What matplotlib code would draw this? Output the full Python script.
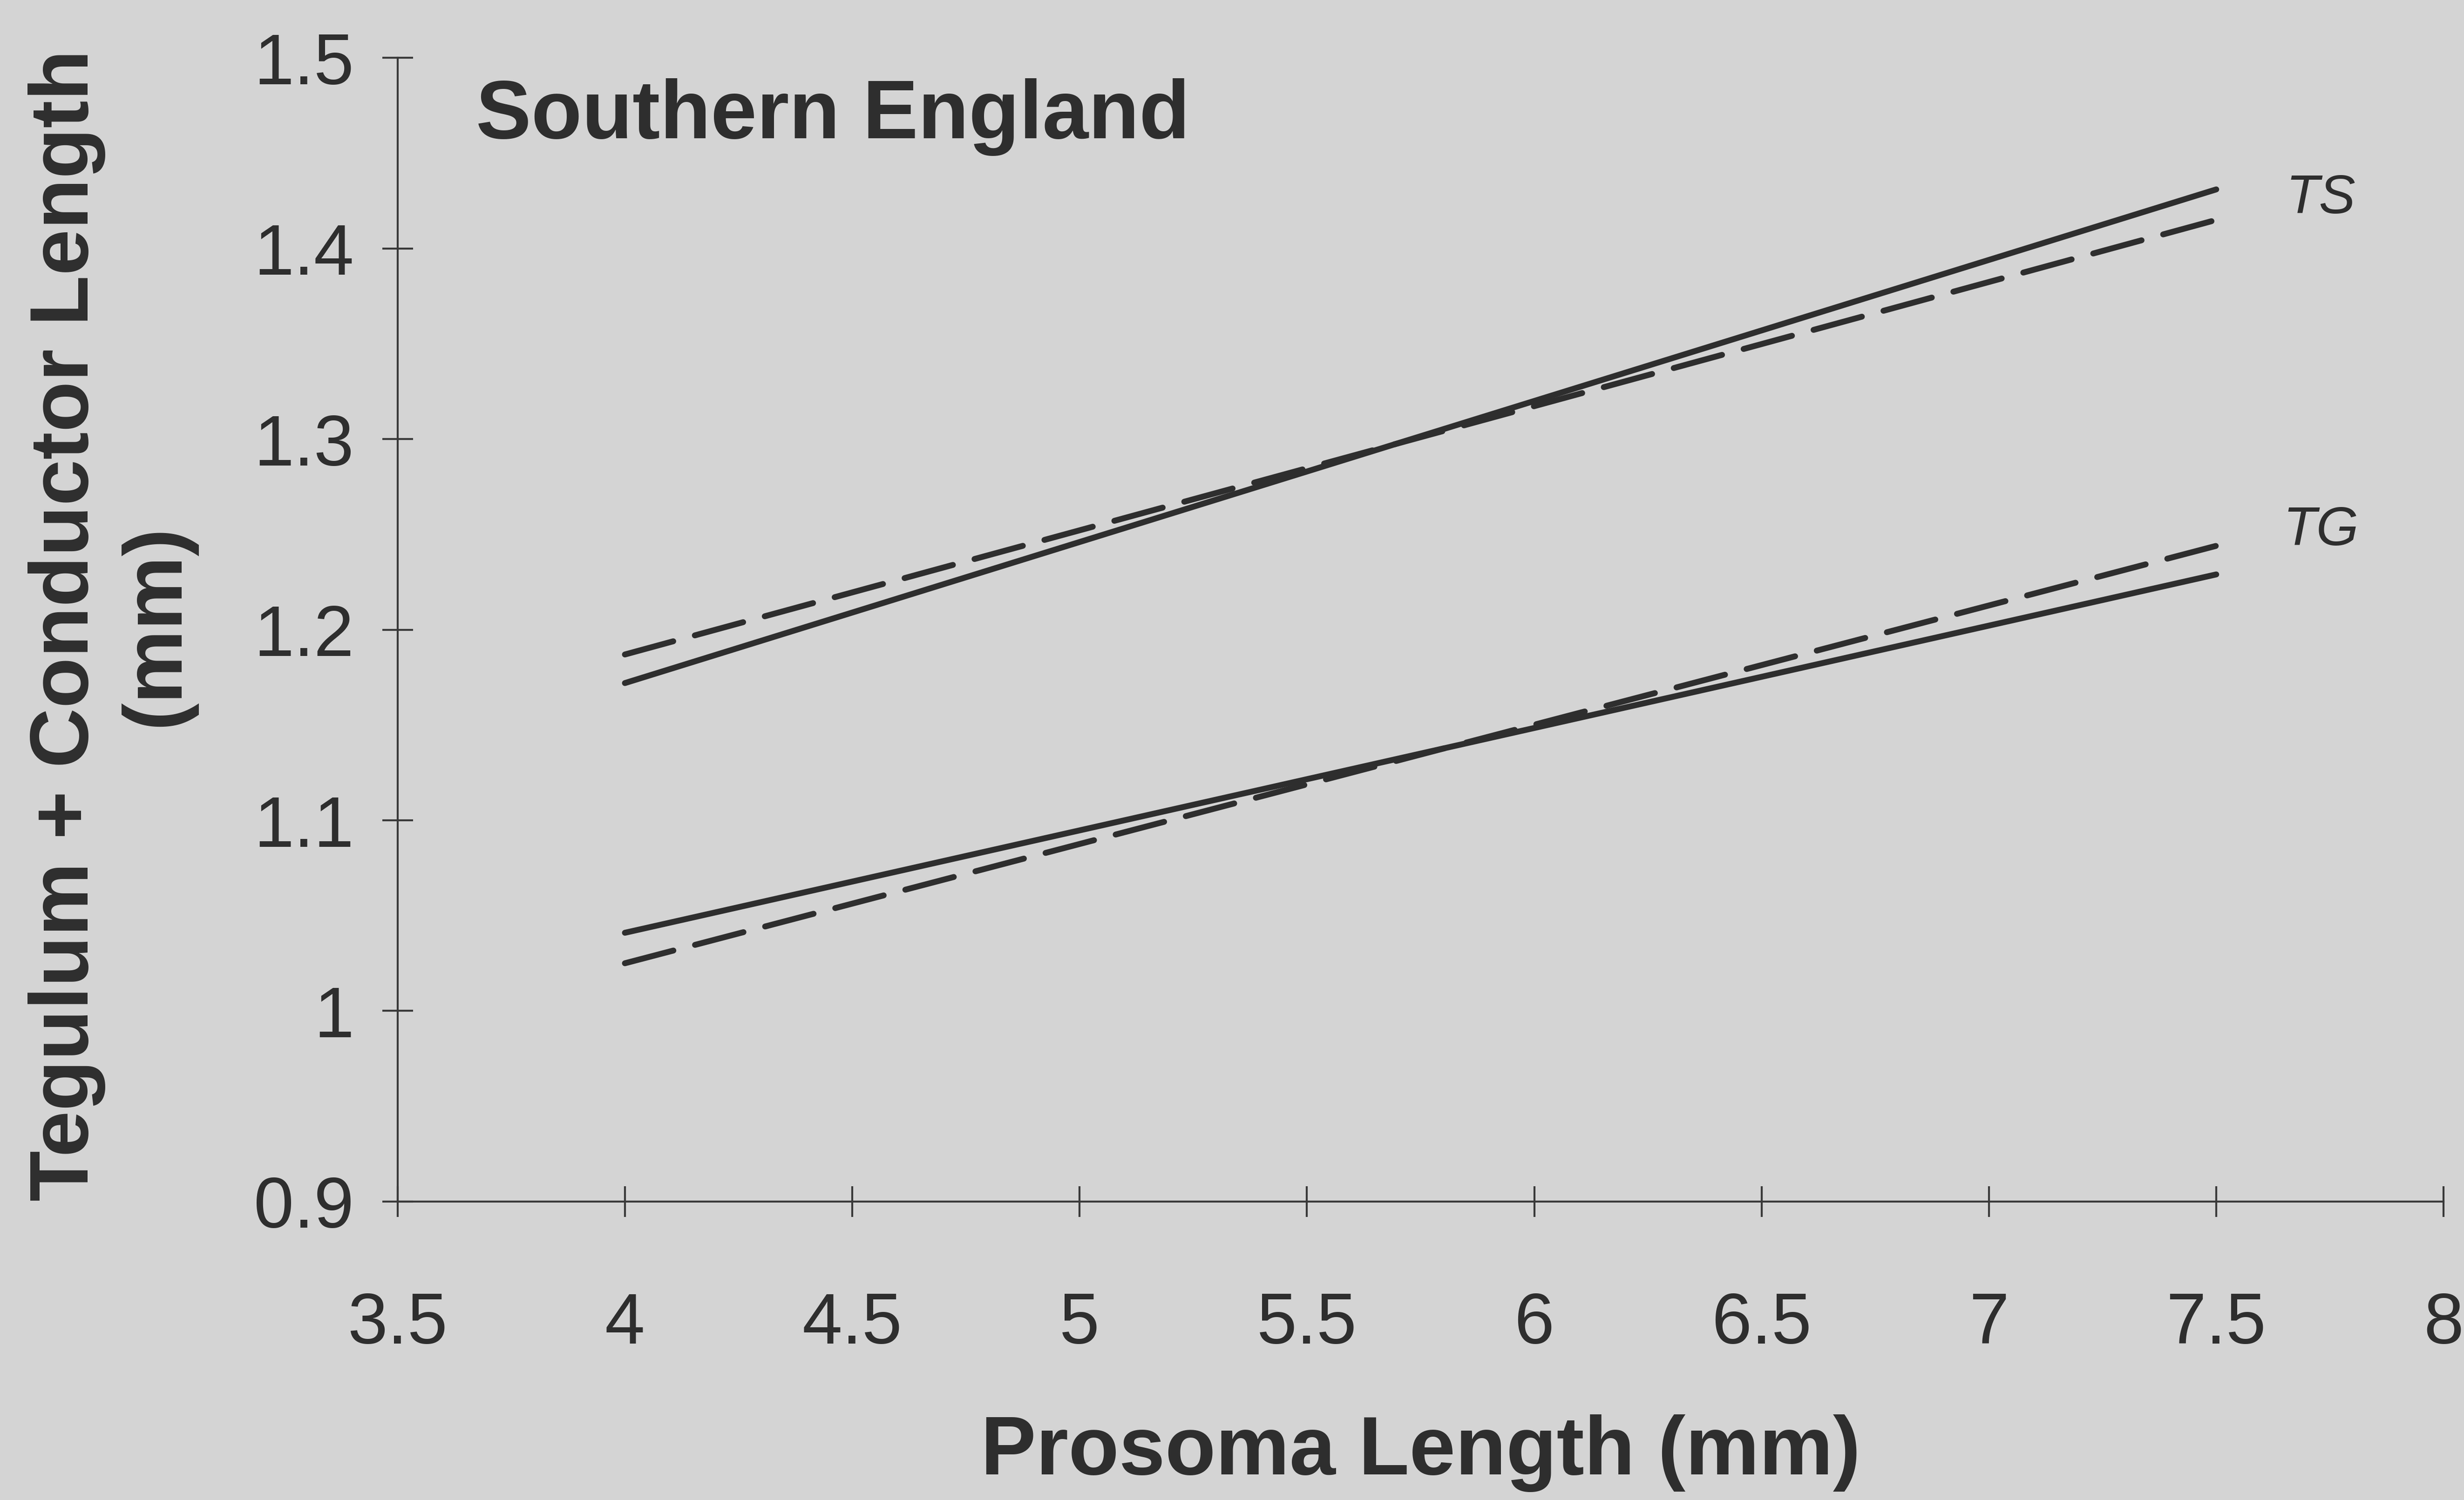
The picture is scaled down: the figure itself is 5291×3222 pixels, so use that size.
import matplotlib
matplotlib.use('Agg')
import matplotlib.pyplot as plt
from matplotlib.ticker import FuncFormatter

# regression lines, read at the two ends (prosoma 4 and 7.5 mm)
prosoma = [4.0, 7.5]
ts_solid = [1.172, 1.431]
ts_dashed = [1.187, 1.415]
tg_solid = [1.041, 1.229]
tg_dashed = [1.025, 1.244]

xticks = [3.5, 4, 4.5, 5, 5.5, 6, 6.5, 7, 7.5, 8]
yticks = [0.9, 1.0, 1.1, 1.2, 1.3, 1.4, 1.5]

bg = '#d4d4d4'
ink = '#2e2e2e'

plt.rcParams['font.family'] = ['Liberation Sans', 'DejaVu Sans']

fig = plt.figure(figsize=(15.68, 9.55), dpi=5291 / 15.68)
fig.patch.set_facecolor(bg)
ax = fig.add_axes([253 / 1568, 1 - 765 / 955, (1555 - 253) / 1568, (765 - 37) / 955])
ax.set_facecolor('none')

lw = 2.7
dash = (8.5, 3.8)
ax.plot(prosoma, ts_solid, color=ink, lw=lw, solid_capstyle='round')
ax.plot(prosoma, ts_dashed, color=ink, lw=lw, dashes=dash, dash_capstyle='round')
ax.plot(prosoma, tg_solid, color=ink, lw=lw, solid_capstyle='round')
ax.plot(prosoma, tg_dashed, color=ink, lw=lw, dashes=dash, dash_capstyle='round')

ax.text(7.73, 1.426, 'TS', style='italic', fontsize=25, color=ink, ha='center', va='center')
ax.text(7.73, 1.252, 'TG', style='italic', fontsize=25, color=ink, ha='center', va='center')

ax.set_xlim(3.5, 8)
ax.set_ylim(0.9, 1.5)
ax.set_xticks(xticks)
ax.set_yticks(yticks)
fmt = FuncFormatter(lambda v, p: '%g' % v)
ax.xaxis.set_major_formatter(fmt)
ax.yaxis.set_major_formatter(fmt)

for s in ['top', 'right']:
  ax.spines[s].set_visible(False)
for s in ['left', 'bottom']:
  ax.spines[s].set_linewidth(0.9)
  ax.spines[s].set_color('#3a3a3a')

ax.tick_params(axis='x', direction='inout', length=14, width=0.9, color='#3a3a3a',
               labelsize=33, labelcolor=ink, pad=34)
ax.tick_params(axis='y', direction='inout', length=14, width=0.9, color='#3a3a3a',
               labelsize=33, labelcolor=ink, pad=13)

ax.text(0.0384, 0.930, 'Southern England', transform=ax.transAxes, fontsize=38,
        fontweight='bold', color=ink, ha='left', va='baseline')

fig.text(904 / 1568, 1 - 925 / 955, 'Prosoma Length (mm)', fontsize=38, fontweight='bold',
         color=ink, ha='center', va='center')
fig.text(71 / 1568, 1 - 398 / 955, 'Tegulum + Conductor Length\n(mm)', fontsize=38,
         fontweight='bold', color=ink, rotation=90, ha='center', va='center',
         multialignment='center', linespacing=1.2)

fig.savefig('out.png', dpi=5291 / 15.68, facecolor=bg)
